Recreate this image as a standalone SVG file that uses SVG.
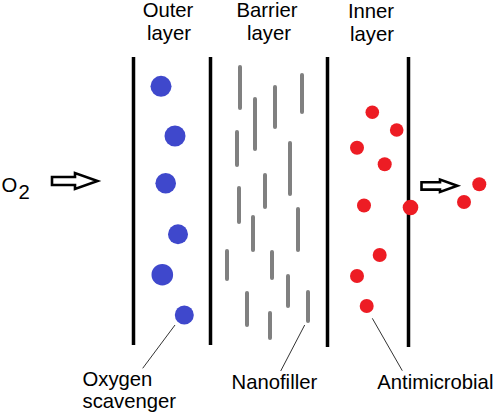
<svg xmlns="http://www.w3.org/2000/svg" width="498" height="415" viewBox="0 0 498 415">
<style>
text{font-family:"Liberation Sans",Arial,sans-serif;font-size:20.3px;fill:#000}
.wall{stroke:#000;stroke-width:3.5;fill:none}
.dash{stroke:#808080;stroke-width:4;stroke-linecap:round;fill:none}
.blue{fill:#3f48cc}
.red{fill:#ed1c24}
.lead{stroke:#333;stroke-width:1;fill:none}
.arrow{fill:#fff;stroke:#000;stroke-width:2.6;stroke-linejoin:miter}
</style>
<rect width="498" height="415" fill="#fff"/>
<g id="headers">
<text x="168" y="17" text-anchor="middle">Outer</text>
<text x="169" y="40" text-anchor="middle">layer</text>
<text x="267" y="17" text-anchor="middle">Barrier</text>
<text x="269" y="40" text-anchor="middle">layer</text>
<text x="371" y="18" text-anchor="middle">Inner</text>
<text x="372" y="41" text-anchor="middle">layer</text>
</g>
<g id="walls">
<line class="wall" x1="133.5" y1="57" x2="133.5" y2="345"/>
<line class="wall" x1="210.5" y1="57" x2="210.5" y2="345"/>
<line class="wall" x1="327.5" y1="57" x2="327.5" y2="347"/>
<line class="wall" x1="408.5" y1="57" x2="408.5" y2="347"/>
</g>
<g id="outer-layer">
<circle class="blue" cx="161" cy="86.3" r="10.5"/>
<circle class="blue" cx="175" cy="136" r="10.5"/>
<circle class="blue" cx="165.7" cy="183.3" r="10.3"/>
<circle class="blue" cx="178" cy="234.3" r="10"/>
<circle class="blue" cx="162.3" cy="274.7" r="10.8"/>
<circle class="blue" cx="184.3" cy="315" r="9.5"/>
</g>
<g id="barrier-layer">
<line class="dash" x1="240" y1="67" x2="240" y2="108"/>
<line class="dash" x1="255" y1="99" x2="255" y2="149"/>
<line class="dash" x1="275" y1="87" x2="275" y2="127"/>
<line class="dash" x1="302" y1="75" x2="302" y2="112"/>
<line class="dash" x1="237" y1="132" x2="237" y2="165"/>
<line class="dash" x1="290" y1="143" x2="290" y2="194"/>
<line class="dash" x1="265" y1="175" x2="265" y2="207"/>
<line class="dash" x1="239" y1="188" x2="239" y2="222"/>
<line class="dash" x1="253" y1="217" x2="253" y2="250"/>
<line class="dash" x1="298" y1="209" x2="298" y2="250"/>
<line class="dash" x1="227" y1="251" x2="227" y2="279"/>
<line class="dash" x1="272" y1="252" x2="272" y2="278"/>
<line class="dash" x1="288" y1="276" x2="288" y2="306"/>
<line class="dash" x1="247" y1="293" x2="247" y2="325"/>
<line class="dash" x1="270" y1="313" x2="270" y2="338"/>
<line class="dash" x1="308" y1="292" x2="308" y2="321"/>
</g>
<g id="inner-layer">
<circle class="red" cx="372.3" cy="112.3" r="6.8"/>
<circle class="red" cx="396.7" cy="130" r="6.8"/>
<circle class="red" cx="357" cy="147.7" r="7"/>
<circle class="red" cx="384.7" cy="164.3" r="7"/>
<circle class="red" cx="364" cy="205.5" r="7"/>
<circle class="red" cx="410.5" cy="207.5" r="7.8"/>
<circle class="red" cx="379.7" cy="255" r="7"/>
<circle class="red" cx="357" cy="276" r="7"/>
<circle class="red" cx="366.7" cy="306" r="7"/>
<circle class="red" cx="479.3" cy="184.3" r="7"/>
<circle class="red" cx="464" cy="202" r="7"/>
</g>
<g id="o2-in">
<text x="1.5" y="192">O</text>
<text x="18.5" y="199" font-size="20">2</text>
<path class="arrow" d="M52,177 H75 V173 L97.5,181 L75,189 V185 H52 Z"/>
</g>
<g id="release-arrow">
<path class="arrow" d="M421.5,182.3 H440 V179.6 L457.3,185.8 L440,192 V189.6 H421.5 Z"/>
</g>
<g id="connectors">
<line class="lead" x1="175" y1="325" x2="142.7" y2="368.3"/>
<line class="lead" x1="304.7" y1="325" x2="280.7" y2="371"/>
<line class="lead" x1="372.3" y1="318.3" x2="402.3" y2="370.7"/>
</g>
<g id="labels">
<text x="82.5" y="386">Oxygen</text>
<text x="82.5" y="408">scavenger</text>
<text x="231.5" y="389">Nanofiller</text>
<text x="377.3" y="388.5">Antimicrobial</text>
</g>
</svg>
